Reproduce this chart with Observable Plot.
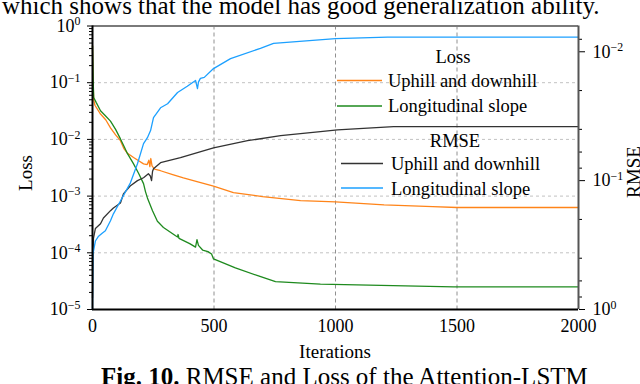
<!DOCTYPE html>
<html><head><meta charset="utf-8">
<script src="https://cdn.jsdelivr.net/npm/d3@7"></script>
<script src="https://cdn.jsdelivr.net/npm/@observablehq/plot@0.6"></script>
<style>
body{margin:0;background:#fff;}
#wrap{position:relative;width:640px;height:384px;overflow:hidden;background:#fff;}
#wrap svg{position:absolute;left:0;top:0;}
</style></head><body><div id="wrap"></div>
<script>
// ---------- data ----------
// Loss — Uphill and downhill
const lossUphillIter = [0, 2, 5, 10, 33, 55, 74, 95, 115, 130, 144, 169, 190, 210, 225, 232, 236, 240, 245, 255, 280, 330, 374, 430, 498, 580, 700, 856, 1000, 1200, 1400, 1500, 2000];
const lossUphill = [0.45, 0.12, 0.05, 0.04, 0.028, 0.022, 0.016, 0.012, 0.0095, 0.0068, 0.0057, 0.0048, 0.0042, 0.0037, 0.0036, 0.0043, 0.0033, 0.0046, 0.0034, 0.0030, 0.0028, 0.0024, 0.0021, 0.0018, 0.0015, 0.00115, 0.00098, 0.00083, 0.00079, 0.00070, 0.00065, 0.00063, 0.00063];
// Loss — Longitudinal slope
const lossLongIter = [0, 3, 5, 15, 33, 50, 74, 95, 115, 130, 144, 169, 190, 210, 218, 226, 247, 267, 292, 342, 350, 352, 356, 400, 424, 430, 436, 453, 475, 490, 498, 588, 683, 753, 938, 1486, 2000];
const lossLong = [0.45, 0.1, 0.055, 0.045, 0.032, 0.027, 0.021, 0.015, 0.0102, 0.0075, 0.0056, 0.0037, 0.0025, 0.00166, 0.0012, 0.00093, 0.00055, 0.00036, 0.00028, 0.0002, 0.00019, 0.00021, 0.00018, 0.000145, 0.000126, 0.00017, 0.000135, 0.000112, 0.000105, 0.000095, 0.000078, 0.000054, 0.000039, 0.000031, 0.000028, 0.000025, 0.000025];
// RMSE — Uphill and downhill
const rmseUphillIter = [0, 2, 4, 12, 33, 45, 74, 86, 115, 128, 155, 185, 210, 230, 238, 243, 247, 251, 280, 362, 498, 638, 774, 938, 1008, 1239, 2000];
const rmseUphill = [0.81, 0.37, 0.28, 0.235, 0.216, 0.195, 0.171, 0.163, 0.149, 0.126, 0.11, 0.1, 0.095, 0.0885, 0.092, 0.1, 0.085, 0.081, 0.0726, 0.0664, 0.0556, 0.049, 0.0448, 0.0417, 0.0403, 0.0381, 0.0381];
// RMSE — Longitudinal slope
const rmseLongIter = [0, 1, 2, 12, 25, 41, 53, 74, 86, 115, 156, 185, 210, 226, 239, 251, 280, 309, 350, 390, 424, 432, 436, 444, 460, 498, 568, 691, 745, 1000, 1214, 2000];
const rmseLong = [1.0, 0.6, 0.37, 0.294, 0.27, 0.255, 0.245, 0.205, 0.181, 0.144, 0.104, 0.074, 0.0516, 0.0464, 0.0409, 0.0324, 0.0272, 0.0253, 0.0207, 0.0185, 0.0167, 0.0193, 0.0172, 0.0161, 0.0158, 0.0135, 0.0113, 0.0094, 0.0086, 0.0079, 0.0077, 0.0077];

// ticks
const xTicks = [0, 500, 1000, 1500, 2000];
const xGrid = [500, 1000, 1500];
const lossTicks = [1e-5, 1e-4, 1e-3, 1e-2, 1e-1, 1];
const lossGrid = [1e-4, 1e-3, 1e-2, 1e-1];
const lossMinor = [-5, -4, -3, -2, -1].flatMap(k => [2, 3, 4, 5, 6, 7, 8, 9].map(m => m * Math.pow(10, k)));
const rmseTicks = [1e-2, 1e-1, 1];
const rmseMinor = [0.008, 0.02, 0.04, 0.06, 0.08, 0.2, 0.4, 0.6, 0.8];
const rmseTopExp = 2.2; // right (RMSE) axis: 10^0 at bottom, 10^-2.2 at top

// legend / series
const seriesNames = ["Uphill and downhill", "Longitudinal slope"];
const colors = {lossUphill: "#ff8419", lossLong: "#1e8a1e", rmseUphill: "#333333", rmseLong: "#1ca0ff"};

// ---------- helpers ----------
const FONT = "'Liberation Serif','Times New Roman',serif";
const toLossSpace = r => Math.pow(10, -5 - Math.log10(r) * 5 / rmseTopExp);
const rows = (xs, ys, f) => xs.map((x, i) => ({x, y: f ? f(ys[i]) : ys[i]}));
const expFmt = d => "10^" + Math.round(Math.log10(d));
const rmseTickRows = rmseTicks.map(r => ({y: toLossSpace(r), label: expFmt(r)}));

const chart = Plot.plot({
  width: 640, height: 384,
  marginTop: 25.5, marginBottom: 75, marginLeft: 92, marginRight: 62,
  style: {fontFamily: FONT, fontSize: "18px", background: "transparent", color: "#000", overflow: "visible"},
  x: {domain: [0, 2000]},
  y: {type: "log", domain: [1e-5, 1]},
  marks: [
    Plot.gridX(xGrid, {stroke: "#909090", strokeOpacity: 1, strokeDasharray: "4,3"}),
    Plot.gridY(lossGrid, {stroke: "#c2c2c2", strokeOpacity: 1, strokeDasharray: "3,3"}),
    Plot.line(rows(lossUphillIter, lossUphill), {x: "x", y: "y", stroke: colors.lossUphill, strokeWidth: 1.3}),
    Plot.line(rows(lossLongIter, lossLong), {x: "x", y: "y", stroke: colors.lossLong, strokeWidth: 1.3}),
    Plot.line(rows(rmseUphillIter, rmseUphill, toLossSpace), {x: "x", y: "y", stroke: colors.rmseUphill, strokeWidth: 1.3}),
    Plot.line(rows(rmseLongIter, rmseLong, toLossSpace), {x: "x", y: "y", stroke: colors.rmseLong, strokeWidth: 1.3}),
    Plot.axisX(xTicks, {anchor: "bottom", tickSize: 0, tickPadding: 10, label: null, tickFormat: d => String(d)}),
    Plot.axisY(lossTicks, {anchor: "left", tickSize: 5, tickPadding: 7, label: null, tickFormat: expFmt}),
    Plot.axisY(lossMinor, {anchor: "left", tickSize: 3, tickPadding: 0, label: null, tickFormat: () => ""}),
    // right (RMSE) axis, drawn in the shared y scale
    Plot.axisY(rmseTickRows.map(d => d.y), {anchor: "right", tickSize: 6, tickPadding: 0, label: null, tickFormat: () => ""}),
    Plot.axisY(rmseMinor.map(toLossSpace), {anchor: "right", tickSize: 3, tickPadding: 0, label: null, tickFormat: () => ""}),
    Plot.text(rmseTickRows, {y: "y", text: "label", frameAnchor: "right", textAnchor: "start", dx: 14, fontSize: 18}),
    Plot.ruleY([1], {stroke: "#7a7a7a", strokeWidth: 2}),
    Plot.ruleX([2000], {stroke: "#555", strokeWidth: 2}),
    Plot.ruleY([1e-5], {stroke: "#000", strokeWidth: 2}),
    Plot.ruleX([0], {stroke: "#000", strokeWidth: 2})
  ]
});

// superscript exponents in tick labels
d3.select(chart).selectAll("text").each(function() {
  const m = /^10\^(-?\d+)$/.exec(this.textContent);
  if (!m) return;
  const t = d3.select(this);
  t.text("10");
  t.append("tspan").attr("dy", "-0.55em").attr("font-size", "0.66em").text(m[1].replace("-", "\u2212"));
});

const wrap = document.getElementById("wrap");
wrap.appendChild(chart);

// overlay: axis titles, legend, surrounding page text
const ov = d3.select(wrap).append("svg")
  .attr("width", 640).attr("height", 384)
  .style("font-family", FONT).style("overflow", "hidden");

ov.append("text").attr("x", 2).attr("y", 14).attr("font-size", 25)
  .text("which shows that the model has good generalization ability.");
const cap = ov.append("text").attr("x", 101).attr("y", 385).attr("font-size", 25);
cap.append("tspan").attr("font-weight", "bold").text("Fig. 10.");
cap.append("tspan").text(" RMSE and Loss of the Attention-LSTM");

ov.append("text").attr("x", 335).attr("y", 358).attr("font-size", 19).attr("text-anchor", "middle").text("Iterations");
ov.append("text").attr("transform", "translate(32,173) rotate(-90)").attr("font-size", 19).attr("text-anchor", "middle").text("Loss");
ov.append("text").attr("transform", "translate(640,172) rotate(-90)").attr("font-size", 19).attr("text-anchor", "middle").text("RMSE");

const leg = ov.append("g").attr("font-size", 18.5);
leg.append("text").attr("x", 453).attr("y", 63).attr("text-anchor", "middle").text("Loss");
leg.append("line").attr("x1", 337).attr("x2", 382).attr("y1", 80.5).attr("y2", 80.5).attr("stroke", colors.lossUphill).attr("stroke-width", 1.3);
leg.append("text").attr("x", 388).attr("y", 87).text(seriesNames[0]);
leg.append("line").attr("x1", 337).attr("x2", 382).attr("y1", 106).attr("y2", 106).attr("stroke", colors.lossLong).attr("stroke-width", 1.3);
leg.append("text").attr("x", 388).attr("y", 112).text(seriesNames[1]);
leg.append("text").attr("x", 455).attr("y", 147).attr("text-anchor", "middle").text("RMSE");
leg.append("line").attr("x1", 341).attr("x2", 383).attr("y1", 163.5).attr("y2", 163.5).attr("stroke", colors.rmseUphill).attr("stroke-width", 1.3);
leg.append("text").attr("x", 391).attr("y", 170).text(seriesNames[0]);
leg.append("line").attr("x1", 341).attr("x2", 383).attr("y1", 188).attr("y2", 188).attr("stroke", colors.rmseLong).attr("stroke-width", 1.3);
leg.append("text").attr("x", 391).attr("y", 195).text(seriesNames[1]);
</script>
</body></html>
